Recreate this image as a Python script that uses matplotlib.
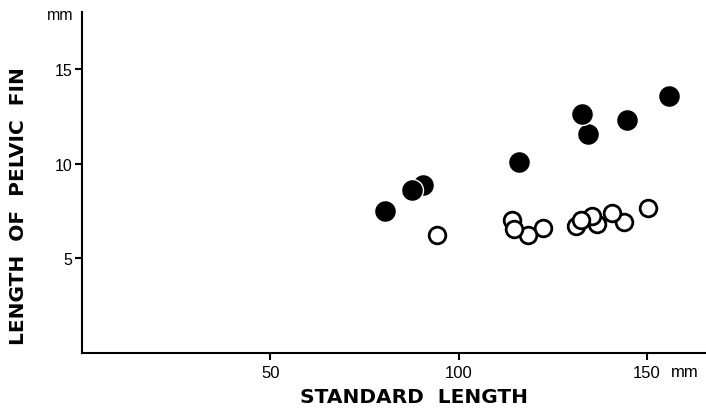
"""Pelvic fin length vs standard length scatter."""

import matplotlib

matplotlib.use("Agg")
import matplotlib.pyplot as plt

# filled circles, listed back to front
filled_x = [80.5, 90.4, 87.7, 116.0, 134.4, 132.8, 144.8, 156.0]
filled_y = [7.47, 8.85, 8.58, 10.06, 11.56, 12.60, 12.33, 13.60]

# open circles, listed back to front
open_x = [94.3, 114.2, 122.3, 118.3, 114.7, 131.2, 136.8, 135.5, 132.4, 143.9, 140.8, 150.4]
open_y = [6.22, 7.03, 6.57, 6.22, 6.53, 6.71, 6.80, 7.24, 7.03, 6.89, 7.38, 7.63]

x_ticks = [50, 100, 150]
y_ticks = [5, 10, 15]

tick_font = "Liberation Sans"
label_font = "DejaVu Sans"


def main():
    fig = plt.figure(figsize=(7.06, 4.10), dpi=100)
    ax = fig.add_axes([0.1165, 0.1378, 0.8835, 0.8305])

    ax.scatter(filled_x, filled_y, s=15.8**2, c="black",
               edgecolors="white", linewidths=1.0, zorder=3, clip_on=False)
    ax.scatter(open_x, open_y, s=12.0**2, c="white",
               edgecolors="black", linewidths=2.0, zorder=2, clip_on=False)

    ax.set_xlim(0, 165.7)
    ax.set_ylim(0, 18.02)
    ax.set_xticks(x_ticks)
    ax.set_yticks(y_ticks)
    ax.set_xticklabels([str(v) for v in x_ticks], fontfamily=tick_font, fontsize=12)
    ax.set_yticklabels([str(v) for v in y_ticks], fontfamily=tick_font, fontsize=11.5)

    for side in ("top", "right"):
        ax.spines[side].set_visible(False)
    for side in ("left", "bottom"):
        ax.spines[side].set_linewidth(1.5)
    ax.tick_params(direction="out", length=5, width=1.5, pad=2)
    ax.tick_params(axis="x", pad=4)

    # unit labels
    fig.text(73 / 706, 1 - 20 / 410, "mm", ha="right", va="baseline",
             fontfamily=tick_font, fontsize=11.5)
    fig.text(671 / 706, 1 - 377 / 410, "mm", ha="left", va="baseline",
             fontfamily=tick_font, fontsize=12)

    fig.text(413.5 / 706, 1 - 398 / 410, "STANDARD  LENGTH", ha="center",
             va="center", fontfamily=label_font, fontweight="bold", fontsize=14.5)
    fig.text(19 / 706, 1 - 206 / 410, "LENGTH  OF  PELVIC  FIN", ha="center",
             va="center", rotation=90, fontfamily=label_font,
             fontweight="bold", fontsize=14.5)

    fig.savefig("out.png", dpi=100, facecolor="white")
    plt.close(fig)


if __name__ == "__main__":
    main()
